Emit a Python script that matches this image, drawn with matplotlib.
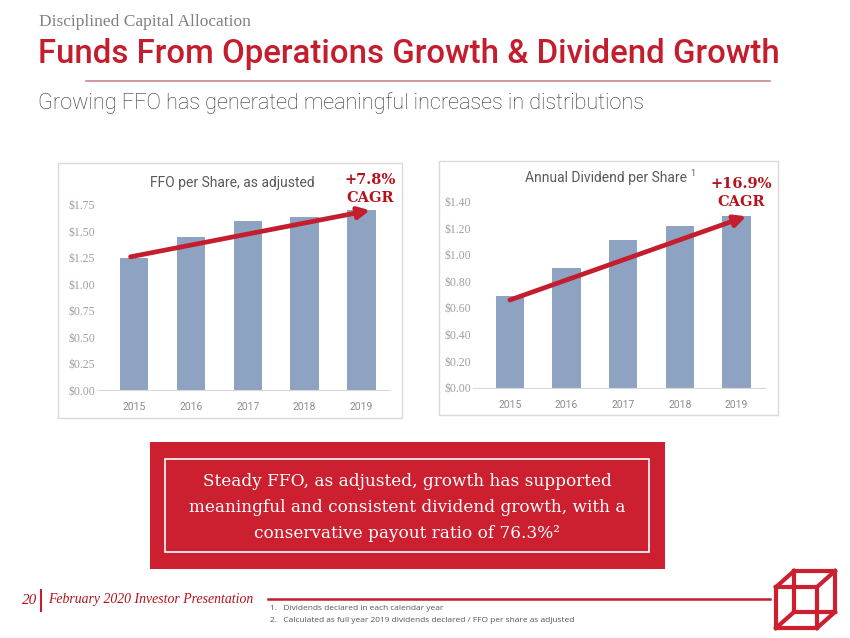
import matplotlib
matplotlib.use("Agg")
import matplotlib.pyplot as plt
from matplotlib.patches import Rectangle
from matplotlib.lines import Line2D

# Data
years = ["2015", "2016", "2017", "2018", "2019"]
ffo_per_share = [1.25, 1.45, 1.60, 1.64, 1.70]
dividend_per_share = [0.69, 0.90, 1.11, 1.22, 1.29]
ffo_ticks = [0.0, 0.25, 0.50, 0.75, 1.00, 1.25, 1.50, 1.75]
div_ticks = [0.0, 0.20, 0.40, 0.60, 0.80, 1.00, 1.20, 1.40]
ffo_cagr = "+7.8%\nCAGR"
div_cagr = "+16.9%\nCAGR"

RED = "#c41e2e"
DARKRED = "#b5121b"
BAR = "#8ea2c1"
GRAY = "#8c8c8c"

W, H = 850, 638
fig = plt.figure(figsize=(8.5, 6.38), dpi=100)


def fx(x):
    return x / W


def fy(y):
    return 1 - y / H


def px_axes(x0, x1, y0, y1):
    # y0 = top pixel, y1 = bottom pixel
    return fig.add_axes([fx(x0), fy(y1), fx(x1) - fx(x0), (y1 - y0) / H])


def frame(x0, y0, x1, y1, **kw):
    fig.patches.append(Rectangle((fx(x0), fy(y1)), fx(x1) - fx(x0), (y1 - y0) / H,
                                 transform=fig.transFigure, **kw))


def line(xs, ys, **kw):
    fig.lines.append(Line2D([fx(v) for v in xs], [fy(v) for v in ys],
                            transform=fig.transFigure, **kw))


# Header
fig.text(fx(39), fy(22), "Disciplined Capital Allocation", fontsize=12.5,
         family="Liberation Serif", color="#808080", va="center")
fig.text(fx(38), fy(54), "Funds From Operations Growth & Dividend Growth",
         fontsize=23.8, family="Roboto", weight="medium", color=RED, va="center")
line([86, 770], [81, 81], color="#c9848a", lw=1.2)
fig.text(fx(38), fy(103), "Growing FFO has generated meaningful increases in distributions",
         fontsize=15.6, family="Roboto", weight="light", color="#333333", va="center")

# Chart frames
frame(58, 163, 402, 418, fill=False, edgecolor="#d9d9d9", lw=1)
frame(439, 161, 778, 415, fill=False, edgecolor="#d9d9d9", lw=1)


def bar_chart(ax, values, ticks, ylim, start, end):
    x = range(len(years))
    ax.bar(x, values, width=0.5, color=BAR, zorder=2)
    ax.set_xlim(-0.65, 4.5)
    ax.set_ylim(0, ylim)
    ax.set_xticks(list(x))
    ax.set_xticklabels(years, family="Roboto", fontsize=7.5, color=GRAY)
    ax.set_yticks(ticks)
    ax.set_yticklabels([f"${t:.2f}" for t in ticks], family="Liberation Serif",
                       fontsize=8.5, color="#a0a0a0")
    ax.tick_params(axis="y", length=0, pad=1.5)
    ax.tick_params(axis="x", length=0, pad=9)
    for s in ["top", "right", "left"]:
        ax.spines[s].set_visible(False)
    ax.spines["bottom"].set_color("#d9d9d9")
    ax.patch.set_alpha(0)
    ax.annotate("", xy=end, xytext=start, annotation_clip=False,
                arrowprops=dict(arrowstyle="-|>", color=RED, lw=3.4,
                                mutation_scale=17, shrinkA=0, shrinkB=0),
                zorder=5)


ax1 = px_axes(97, 390, 205, 390)
bar_chart(ax1, ffo_per_share, ffo_ticks, 1.75, (-0.06, 1.26), (4.15, 1.70))
ax2 = px_axes(473, 765, 201.7, 387.7)
bar_chart(ax2, dividend_per_share, div_ticks, 1.40, (0.0, 0.66), (4.17, 1.29))

fig.text(fx(232), fy(183), "FFO per Share, as adjusted", fontsize=10,
         family="Roboto", color="#595959", ha="center", va="center")
fig.text(fx(606), fy(178), "Annual Dividend per Share", fontsize=10,
         family="Roboto", color="#595959", ha="center", va="center")
fig.text(fx(690), fy(173), "1", fontsize=6.5, family="Roboto", color="#595959",
         va="center")
fig.text(fx(370), fy(189), ffo_cagr, fontsize=10.5, family="DejaVu Serif",
         weight="bold", color=DARKRED, ha="center", va="center", linespacing=1.3)
fig.text(fx(741), fy(193), div_cagr, fontsize=10.5, family="DejaVu Serif",
         weight="bold", color=DARKRED, ha="center", va="center", linespacing=1.3)

# Red callout box
frame(150, 442, 665, 569, color="#cc1f2f", lw=0)
frame(165, 459, 649, 552, fill=False, edgecolor="white", lw=1.2)
callout = ["Steady FFO, as adjusted, growth has supported",
           "meaningful and consistent dividend growth, with a",
           "conservative payout ratio of 76.3%\u00b2"]
for txt, yy in zip(callout, [482, 508, 533]):
    fig.text(fx(407.5), fy(yy), txt, fontsize=12.2, family="DejaVu Serif",
             color="white", ha="center", va="center")

# Footer
fig.text(fx(22), fy(600), "20", fontsize=11, family="Liberation Serif", style="italic",
         color=DARKRED, va="center")
line([41, 41], [590, 611], color=RED, lw=1.5)
fig.text(fx(48), fy(600), "February 2020 Investor Presentation", fontsize=9.9,
         family="Liberation Serif", style="italic", color=DARKRED, va="center")
line([268, 770], [599, 599], color=RED, lw=1.8)
fig.text(fx(270), fy(609), "1.   Dividends declared in each calendar year",
         fontsize=6, family="Open Sans", color="#555555", va="center")
fig.text(fx(270), fy(621),
         "2.   Calculated as full year 2019 dividends declared / FFO per share as adjusted",
         fontsize=6, family="Open Sans", color="#555555", va="center")

# Cube logo
front = [(776, 587), (817, 587), (817, 628), (776, 628)]
back = [(794, 571), (835, 571), (835, 612), (794, 612)]
for sq in (front, back):
    pts = sq + [sq[0]]
    line([p[0] for p in pts], [p[1] for p in pts], color="#cc1f2f", lw=3,
         solid_joinstyle="miter")
for a, b in zip(front, back):
    line([a[0], b[0]], [a[1], b[1]], color="#cc1f2f", lw=3)

fig.savefig("out.png", dpi=100)
